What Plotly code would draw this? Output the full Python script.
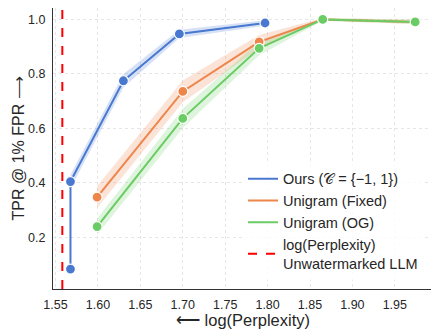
import plotly.graph_objects as go

# data
ours_x = [1.5676, 1.5676, 1.630, 1.696, 1.797]
ours_y = [0.083, 0.404, 0.774, 0.946, 0.986]
ours_ci = [0.010, 0.025, 0.025, 0.015, 0.010]

fixed_x = [1.599, 1.700, 1.790, 1.865, 1.974]
fixed_y = [0.347, 0.735, 0.917, 0.999, 0.990]
fixed_ci = [0.040, 0.040, 0.025, 0.005, 0.008]

og_x = [1.599, 1.700, 1.790, 1.865, 1.974]
og_y = [0.239, 0.636, 0.893, 0.999, 0.990]
og_ci = [0.030, 0.035, 0.025, 0.005, 0.008]

baseline_logppl = 1.558

series = [
    ("Ours (𝒞 = {−1, 1})", ours_x, ours_y, ours_ci, "#4878d0", "rgba(72,120,208,0.22)"),
    ("Unigram (Fixed)", fixed_x, fixed_y, fixed_ci, "#ee854a", "rgba(238,133,74,0.22)"),
    ("Unigram (OG)", og_x, og_y, og_ci, "#6acc64", "rgba(106,204,100,0.22)"),
]

fig = go.Figure()

for name, xs, ys, ci, col, band in series:
    upper = [y + c for y, c in zip(ys, ci)]
    lower = [y - c for y, c in zip(ys, ci)]
    fig.add_trace(go.Scatter(
        x=xs + xs[::-1], y=upper + lower[::-1],
        fill='toself', fillcolor=band, line=dict(width=0),
        mode='lines', hoverinfo='skip', showlegend=False))

for name, xs, ys, ci, col, band in series:
    fig.add_trace(go.Scatter(
        x=xs, y=ys, name=name, mode='lines+markers', showlegend=False,
        line=dict(color=col, width=2),
        marker=dict(size=10, color=col, line=dict(color='white', width=1.2))))

fig.add_vline(x=baseline_logppl, line=dict(color='#ff0000', width=2, dash='dash'))

# legend entries (lines only, as in the reference)
for name, xs, ys, ci, col, band in series:
    fig.add_trace(go.Scatter(x=[None], y=[None], mode='lines', name=name,
                             line=dict(color=col, width=2)))
fig.add_trace(go.Scatter(
    x=[None], y=[None], mode='lines', name='log(Perplexity)<br>Unwatermarked LLM',
    line=dict(color='#ff0000', width=2, dash='dash')))

axis_common = dict(
    showgrid=True, gridcolor='#e6e6e6', griddash='dot', gridwidth=1,
    showline=True, linecolor='#333333', linewidth=1.2,
    zeroline=False, ticks='', tickfont=dict(size=12.5, color='#262626'),
    automargin=False,
)

# axis titles as annotations for exact placement
fig.add_annotation(text='⟵ log(Perplexity)', xref='paper', yref='paper', x=0.5, y=0,
                   xanchor='center', yanchor='top', yshift=-20, showarrow=False,
                   font=dict(size=16.5))
fig.add_annotation(text='TPR @ 1% FPR ⟶', xref='paper', yref='paper', x=0, y=0.5,
                   xanchor='center', yanchor='middle', xshift=-35, textangle=-90,
                   showarrow=False, font=dict(size=16))

# page body has an 8px margin, so the figure is a bit smaller than the window
fig.update_layout(
    width=431, height=328,
    margin=dict(l=45, r=6, t=0, b=47),
    plot_bgcolor='white', paper_bgcolor='white',
    font=dict(family='Liberation Sans, Arial, sans-serif', color='#262626'),
    xaxis=dict(range=[1.547, 1.995], tickvals=[1.55, 1.60, 1.65, 1.70, 1.75, 1.80, 1.85, 1.90, 1.95],
               tickformat='.2f', ticklabelstandoff=4, **axis_common),
    yaxis=dict(range=[0.01, 1.041], tickvals=[0.2, 0.4, 0.6, 0.8, 1.0], tickformat='.1f',
               ticklabelstandoff=4, **axis_common),
    legend=dict(x=0.50, y=0.033, xanchor='left', yanchor='bottom',
                bgcolor='rgba(255,255,255,0.8)', font=dict(size=14.5, color='#262626'),
                tracegroupgap=0, itemwidth=30),
    showlegend=True,
)

fig.write_html("out.html")
